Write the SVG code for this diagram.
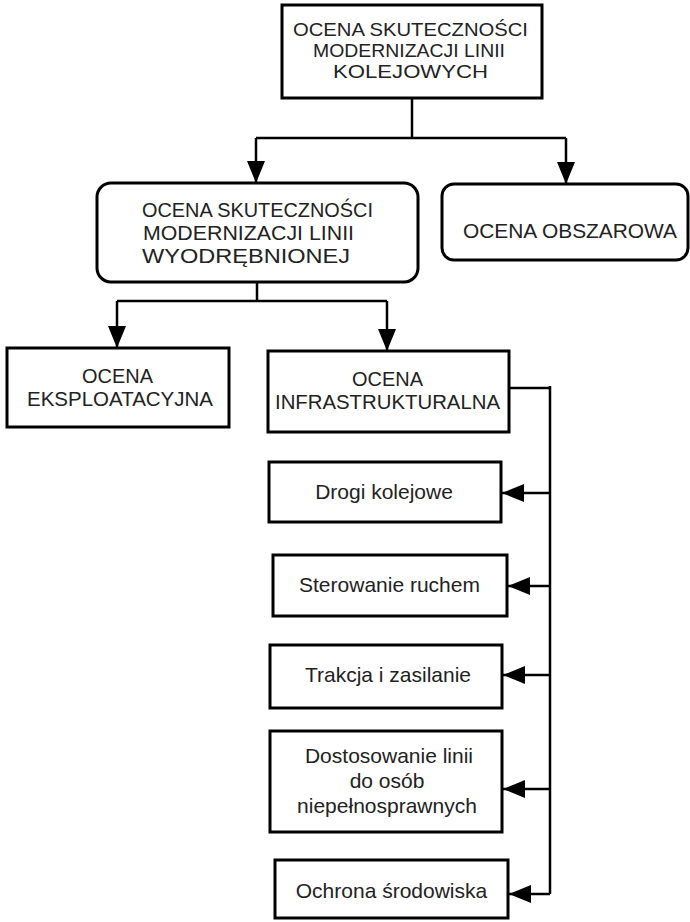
<svg xmlns="http://www.w3.org/2000/svg" width="690" height="922" viewBox="0 0 690 922">
<style>
.box{fill:#fff;stroke:#000;stroke-width:3}
.ln{fill:none;stroke:#000;stroke-width:2.5}
.cap{font-family:"Liberation Sans",Arial,sans-serif;font-size:21px;fill:#222;text-anchor:middle}
.capS{font-family:"Liberation Sans",Arial,sans-serif;font-size:19px;fill:#222;text-anchor:middle}
.t{font-family:"Liberation Sans",Arial,sans-serif;font-size:21px;fill:#222;text-anchor:middle}
</style>
<defs>
<marker id="ah" markerUnits="userSpaceOnUse" markerWidth="24" markerHeight="20" refX="22" refY="9" orient="auto" viewBox="0 0 24 20">
<path d="M0,0 L22,9 L0,18 Z" fill="#000"/>
</marker>
</defs>
<rect width="690" height="922" fill="#fff"/>
<g id="connectors">
<path class="ln" d="M412,98 V138"/>
<path class="ln" d="M256,138 H566"/>
<path class="ln" d="M256,138 V183" marker-end="url(#ah)"/>
<path class="ln" d="M566,138 V184" marker-end="url(#ah)"/>
<path class="ln" d="M257,282 V301"/>
<path class="ln" d="M117,301 H387"/>
<path class="ln" d="M117,301 V348" marker-end="url(#ah)"/>
<path class="ln" d="M387,301 V351" marker-end="url(#ah)"/>
<path class="ln" d="M509,388 H550"/>
<path class="ln" d="M550,386 V894"/>
<path class="ln" d="M550,493 H502" marker-end="url(#ah)"/>
<path class="ln" d="M550,586 H508" marker-end="url(#ah)"/>
<path class="ln" d="M550,675 H503" marker-end="url(#ah)"/>
<path class="ln" d="M550,789 H503" marker-end="url(#ah)"/>
<path class="ln" d="M550,894 H509" marker-end="url(#ah)"/>
</g>
<g id="node-root">
<rect class="box" x="282" y="5" width="260" height="93"/>
<text class="capS" x="410.5" y="36" textLength="235" lengthAdjust="spacingAndGlyphs">OCENA SKUTECZNOŚCI</text>
<text class="capS" x="409" y="57" textLength="192" lengthAdjust="spacingAndGlyphs">MODERNIZACJI LINII</text>
<text class="capS" x="410.5" y="78" textLength="155" lengthAdjust="spacingAndGlyphs">KOLEJOWYCH</text>
</g>
<g id="node-linia">
<rect class="box" x="97" y="183" width="321" height="99" rx="14"/>
<text class="cap" x="257.5" y="217" textLength="231" lengthAdjust="spacingAndGlyphs">OCENA SKUTECZNOŚCI</text>
<text class="cap" x="248.5" y="240" textLength="211" lengthAdjust="spacingAndGlyphs">MODERNIZACJI LINII</text>
<text class="cap" x="246" y="263" textLength="208" lengthAdjust="spacingAndGlyphs">WYODRĘBNIONEJ</text>
</g>
<g id="node-obszarowa">
<rect class="box" x="442" y="184" width="246" height="76" rx="12"/>
<text class="cap" x="570" y="238" textLength="214" lengthAdjust="spacingAndGlyphs">OCENA OBSZAROWA</text>
</g>
<g id="node-eksploatacyjna">
<rect class="box" x="7" y="348" width="222" height="79"/>
<text class="cap" x="117.5" y="383" textLength="71" lengthAdjust="spacingAndGlyphs">OCENA</text>
<text class="cap" x="120" y="406" textLength="186" lengthAdjust="spacingAndGlyphs">EKSPLOATACYJNA</text>
</g>
<g id="node-infrastrukturalna">
<rect class="box" x="268" y="351" width="241" height="81"/>
<text class="cap" x="387.5" y="386" textLength="71" lengthAdjust="spacingAndGlyphs">OCENA</text>
<text class="cap" x="387.5" y="409" textLength="225" lengthAdjust="spacingAndGlyphs">INFRASTRUKTURALNA</text>
</g>
<g id="node-drogi">
<rect class="box" x="269" y="462" width="232" height="60"/>
<text class="t" x="384" y="499">Drogi kolejowe</text>
</g>
<g id="node-sterowanie">
<rect class="box" x="273" y="555" width="234" height="61"/>
<text class="t" x="389.5" y="592">Sterowanie ruchem</text>
</g>
<g id="node-trakcja">
<rect class="box" x="270" y="645" width="232" height="63"/>
<text class="t" x="388" y="682">Trakcja i zasilanie</text>
</g>
<g id="node-dostosowanie">
<rect class="box" x="270" y="731" width="232" height="101"/>
<text class="t" x="389" y="763">Dostosowanie linii</text>
<text class="t" x="387" y="788">do osób</text>
<text class="t" x="387" y="813">niepełnosprawnych</text>
</g>
<g id="node-ochrona">
<rect class="box" x="275" y="860" width="233" height="58"/>
<text class="t" x="391.5" y="898">Ochrona środowiska</text>
</g>
</svg>
